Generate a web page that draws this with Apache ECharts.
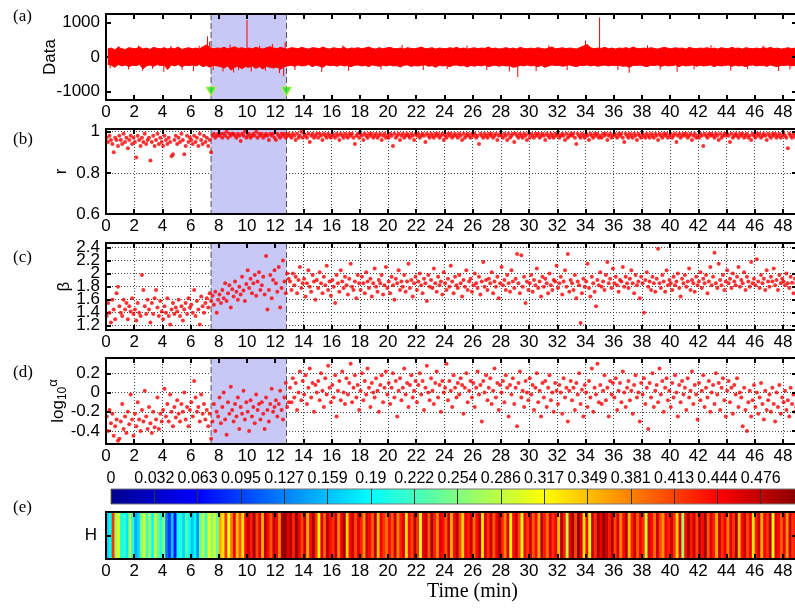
<!DOCTYPE html>
<html>
<head>
<meta charset="utf-8">
<title>Signal, r, beta, alpha and H over time</title>
<script src="https://cdn.jsdelivr.net/npm/echarts@6/dist/echarts.min.js"></script>
<style>
  html, body { margin: 0; padding: 0; background: #fff; }
  #chart { width: 795px; height: 611px; }
</style>
</head>
<body>
<div id="chart"></div>
<script>
// ---------- data ----------
const tMax = 49;
const shadeSpan = [7.45, 12.8];
const markerTimes = [7.45, 12.8];
const markerLevel = -1000;

// (a) raw signal: upper / lower envelope per 0.25 min bin, plus isolated spikes
const bandStep = 0.25;
const bandHigh = [
  230,260,210,280,240,220,270,250, 240,290,230,260,220,280,250,240,
  270,230,260,240,290,220,250,270, 240,260,230,300,350,270,240,260,
  250,280,240,260,300,250,270,240, 260,240,280,250,230,270,300,260,
  240,280,250,230,270,260,240,280, 250,230,270,260,240,290,250,230,
  270,250,240,280,230,260,250,270, 240,260,290,250,230,270,240,260,
  280,250,240,260,230,270,250,240, 260,290,240,250,270,230,260,250,
  240,270,250,280,240,260,230,250, 270,240,260,250,290,240,260,230,
  250,270,240,260,230,280,250,240, 260,240,270,250,230,260,290,240,
  250,270,240,260,250,230,280,320, 360,270,240,260,250,280,240,260,
  230,260,250,270,240,290,250,240, 260,240,270,250,230,260,280,250,
  240,270,250,260,230,280,250,240, 260,250,270,240,260,230,270,250,
  240,280,250,260,230,270,250,240, 260,240,270,250,280,240,260,230,
  250,270,240,260
];
const bandLow = [
  -210,-240,-300,-220,-260,-230,-280,-240, -250,-220,-340,-260,-230,-270,-220,-250,
  -240,-360,-230,-260,-220,-280,-240,-250, -230,-260,-220,-280,-250,-300,-240,-260,
  -280,-320,-260,-380,-300,-270,-340,-280, -300,-260,-330,-280,-350,-270,-300,-320,
  -290,-360,-280,-260,-240,-270,-230,-260, -250,-220,-280,-240,-260,-300,-230,-250,
  -240,-270,-230,-260,-250,-280,-240,-230, -260,-240,-280,-230,-250,-270,-240,-260,
  -230,-260,-250,-290,-240,-230,-270,-250, -260,-240,-230,-270,-250,-300,-240,-260,
  -250,-280,-240,-230,-260,-250,-290,-240, -270,-240,-260,-230,-280,-250,-240,-270,
  -240,-260,-250,-300,-280,-240,-260,-230, -260,-250,-280,-240,-300,-260,-230,-250,
  -240,-270,-250,-230,-260,-280,-240,-250, -230,-260,-240,-270,-250,-230,-260,-240,
  -250,-240,-270,-260,-300,-240,-250,-230, -260,-280,-240,-250,-230,-270,-240,-260,
  -250,-230,-280,-240,-260,-250,-230,-270, -240,-260,-250,-230,-280,-240,-260,-250,
  -230,-270,-240,-260,-250,-280,-240,-230, -260,-240,-250,-270,-230,-260,-280,-240,
  -250,-230,-260,-240
];
const spikes = [
  [0.3,-330],[0.9,310],[1.6,-360],[2.3,330],[2.6,-400],[3.3,-340],[4.1,-430],[4.6,320],
  [5.4,-370],[6.2,-410],[6.6,330],[7.2,600],[7.35,450],[7.6,-380],[8.3,-420],[8.8,360],
  [9.05,-450],[9.4,-380],[10.0,1070],[10.3,-420],[10.9,330],[11.3,-400],[11.8,380],[12.3,-470],
  [12.6,-560],[12.7,430],[13.4,-380],[15.3,-430],[16.8,340],[17.2,-400],[19.5,-360],[21.0,350],
  [22.5,-380],[24.2,-350],[25.6,330],[27.0,-380],[28.6,-420],[29.2,-580],[30.5,-410],[31.4,340],
  [32.7,-380],[34.0,480],[35.0,1150],[36.3,-380],[37.1,-460],[38.4,340],[39.3,-370],[40.5,-430],
  [41.7,-360],[42.9,340],[44.3,-400],[45.5,-350],[46.6,330],[47.7,-410],[48.5,-360]
];

// (b)-(d): one value per 0.1 min window
const winStep = 0.1;
const rValues = [
  0.97,0.95,0.98,0.96,0.94,0.90,0.97,0.96,0.93,0.98,
  0.96,0.94,0.99,0.95,0.97,0.92,0.96,0.98,0.94,0.97,
  0.95,0.875,0.98,0.96,0.93,0.97,0.95,0.99,0.94,0.96,
  0.97,0.86,0.95,0.98,0.93,0.96,0.99,0.94,0.97,0.95,
  0.93,0.98,0.96,0.94,0.97,0.95,0.88,0.89,0.96,0.98,
  0.94,0.97,0.95,0.99,0.96,0.89,0.93,0.98,0.95,0.97,
  0.96,0.94,0.98,0.95,0.97,0.93,0.99,0.96,0.94,0.98,
  0.95,0.97,0.93,0.96,0.90,0.98,0.99,0.97,0.98,0.99,
  0.98,0.99,0.97,0.99,0.98,1.00,0.97,0.99,0.98,0.99,
  0.99,0.98,0.97,0.99,0.98,0.955,0.99,0.98,1.00,0.97,
  0.98,0.99,0.97,0.98,0.99,0.98,1.00,0.97,0.99,0.98,
  0.99,0.97,0.98,0.99,0.98,0.96,0.99,0.98,0.99,0.97,
  0.96,0.99,0.98,0.97,0.99,0.98,0.99,0.97,0.98,0.99,
  0.98,0.97,0.99,0.98,0.96,0.99,0.97,0.98,1.00,0.97,
  0.99,0.98,0.97,0.99,0.95,0.98,0.99,0.97,0.98,0.99,
  0.97,0.99,0.98,0.96,0.99,0.98,0.97,0.99,0.98,0.97,
  0.99,0.98,0.97,0.99,0.98,0.96,0.99,0.98,0.97,0.99,
  0.98,0.97,0.99,0.98,0.99,0.97,0.94,0.98,0.99,0.97,
  0.99,0.98,0.96,0.99,0.98,0.97,0.99,0.98,0.99,0.97,
  0.98,0.99,0.97,0.98,0.99,0.96,0.98,0.99,0.97,0.98,
  0.97,0.99,0.98,0.93,0.99,0.97,0.98,0.99,0.96,0.98,
  0.99,0.97,0.98,0.99,0.98,0.97,0.99,0.98,0.96,0.99,
  0.98,0.99,0.97,0.98,0.99,0.98,0.95,0.99,0.98,0.97,
  0.99,0.98,0.97,0.99,0.98,0.99,0.97,0.98,0.99,0.96,
  0.98,0.97,0.99,0.98,0.99,0.97,0.98,0.99,0.98,0.97,
  0.99,0.98,0.96,0.99,0.97,0.98,0.99,0.98,0.97,0.99,
  0.98,0.99,0.97,0.98,0.94,0.99,0.98,0.97,0.99,0.98,
  0.97,0.99,0.98,0.99,0.97,0.98,0.99,0.96,0.98,0.99,
  0.98,0.97,0.99,0.98,0.96,0.99,0.97,0.98,0.99,0.95,
  0.99,0.98,0.97,0.99,0.98,0.97,0.99,0.98,0.96,0.99,
  0.97,0.99,0.98,0.97,0.99,0.98,0.99,0.97,0.98,0.99,
  0.98,0.96,0.99,0.98,0.97,0.99,0.98,0.97,0.99,0.98,
  0.99,0.97,0.98,0.99,0.98,0.96,0.99,0.97,0.98,0.99,
  0.98,0.99,0.97,0.94,0.99,0.98,0.97,0.99,0.98,0.97,
  0.99,0.98,0.96,0.99,0.98,0.97,0.99,0.98,0.99,0.97,
  0.98,0.97,0.99,0.98,0.99,0.96,0.98,0.99,0.97,0.98,
  0.99,0.98,0.97,0.99,0.98,0.99,0.97,0.95,0.99,0.98,
  0.97,0.99,0.98,0.97,0.99,0.98,0.96,0.99,0.98,0.97,
  0.99,0.98,0.97,0.99,0.98,0.97,0.99,0.98,0.97,0.99,
  0.98,0.96,0.99,0.98,0.97,0.99,0.98,0.99,0.97,0.98,
  0.99,0.97,0.98,0.99,0.95,0.98,0.99,0.97,0.98,0.99,
  0.98,0.99,0.97,0.98,0.99,0.96,0.98,0.99,0.97,0.98,
  0.97,0.99,0.98,0.93,0.99,0.98,0.97,0.99,0.98,0.99,
  0.98,0.97,0.99,0.98,0.96,0.99,0.97,0.98,0.99,0.98,
  0.99,0.98,0.95,0.99,0.97,0.98,0.99,0.98,0.97,0.99,
  0.98,0.99,0.97,0.98,0.99,0.97,0.98,0.96,0.99,0.98,
  0.97,0.99,0.98,0.99,0.97,0.98,0.99,0.98,0.96,0.99,
  0.98,0.97,0.99,0.98,0.99,0.97,0.98,0.99,0.97,0.98,
  0.99,0.98,0.97,0.92,0.99,0.98,0.97,0.99,0.98,0.97
];
const betaValues = [
  1.35,1.55,1.40,1.25,1.60,1.45,1.30,1.70,1.80,1.50,
  1.40,1.35,1.60,1.45,1.55,1.30,1.50,1.42,1.62,1.38,
  1.45,1.28,1.55,1.40,1.35,1.98,1.75,1.50,1.38,1.60,
  1.45,1.25,1.55,1.38,1.62,1.75,1.48,1.35,1.58,1.42,
  1.30,1.50,1.40,1.62,1.35,1.22,1.45,1.55,1.38,1.48,
  1.42,1.60,1.35,1.50,1.28,1.45,1.55,1.38,1.62,1.48,
  1.52,1.40,1.75,1.35,1.58,1.45,1.22,1.65,1.50,1.40,
  1.55,1.62,1.48,1.70,1.58,1.66,1.52,1.72,1.40,1.60,
  1.68,1.55,1.75,1.62,1.85,1.58,1.70,1.82,1.48,1.76,
  1.65,1.88,1.72,1.60,1.80,1.68,1.95,1.74,1.58,1.84,
  2.05,1.78,1.92,1.70,1.85,1.98,1.66,1.88,2.02,1.75,
  1.82,1.95,1.68,2.27,1.45,1.75,1.98,1.62,1.90,2.05,
  1.85,1.72,2.10,1.48,1.78,2.20,1.88,1.70,2.00,1.92,
  1.88,1.75,2.00,1.82,1.95,1.70,1.90,2.10,1.78,1.85,
  1.92,1.65,1.85,2.05,1.80,1.72,1.98,1.88,1.60,1.90,
  1.78,2.02,1.85,1.70,1.95,1.82,2.12,1.75,1.88,1.66,
  1.90,1.80,1.55,1.98,1.85,1.72,2.05,1.88,1.78,1.95,
  1.82,1.68,1.92,2.15,1.80,1.75,1.88,1.62,1.98,1.85,
  1.75,1.95,1.85,1.70,2.02,1.88,1.78,1.92,1.65,1.85,
  2.08,1.80,1.72,1.90,1.85,1.98,1.68,1.82,2.10,1.78,
  1.88,1.70,1.95,1.82,1.60,1.92,1.85,2.05,1.75,1.88,
  1.80,1.98,1.72,1.88,2.15,1.78,1.90,1.65,1.85,1.95,
  1.75,1.88,2.00,1.82,1.70,1.92,1.85,1.58,1.98,1.80,
  1.90,1.78,2.08,1.85,1.72,1.95,1.82,1.88,1.68,2.02,
  1.85,1.75,1.92,1.80,2.12,1.88,1.70,1.95,1.82,1.78,
  1.98,1.85,1.65,1.90,1.80,2.05,1.75,1.88,1.92,1.72,
  1.82,2.00,1.85,1.78,1.95,1.68,1.88,2.18,1.80,1.90,
  1.75,1.92,1.85,2.02,1.70,1.88,1.80,1.95,1.62,1.85,
  2.10,1.82,1.90,1.75,1.98,1.85,1.72,2.05,1.88,1.78,
  1.92,2.30,1.85,1.70,2.28,1.80,1.95,1.55,1.88,1.75,
  1.85,1.98,1.72,1.90,1.82,2.08,1.78,1.88,1.65,1.95,
  1.80,1.92,1.85,1.70,2.00,1.82,1.75,1.90,1.88,2.12,
  1.78,1.85,1.95,1.68,1.88,2.05,1.80,2.30,1.72,1.90,
  1.85,1.75,1.98,1.62,1.88,1.82,1.24,1.70,1.92,1.80,
  1.88,2.15,1.78,1.65,1.95,1.85,1.72,1.50,1.90,1.82,
  2.02,1.80,1.88,1.75,1.98,2.18,1.85,1.92,1.78,2.08,
  1.85,1.95,1.82,1.72,1.90,1.88,2.10,1.80,1.95,1.85,
  1.78,1.92,2.05,1.85,1.70,1.98,1.82,1.88,1.62,1.95,
  1.85,1.40,1.90,2.02,1.80,1.88,1.75,1.95,1.85,1.72,
  1.92,2.38,1.85,1.78,1.98,1.88,1.72,2.05,1.82,1.90,
  1.85,1.75,1.95,1.82,1.88,2.00,1.78,1.65,1.92,1.85,
  1.98,1.80,1.88,2.08,1.75,1.90,1.85,1.72,1.95,1.82,
  1.88,2.02,1.78,1.92,1.85,1.98,1.70,1.88,2.10,1.82,
  1.95,2.32,1.85,1.78,2.15,1.90,1.82,1.98,1.75,1.88,
  2.05,1.85,1.92,1.78,2.00,1.88,1.82,1.95,2.10,1.80,
  1.90,1.85,2.02,1.75,1.95,1.88,1.80,2.18,1.85,1.92,
  1.82,2.22,1.88,1.78,1.98,1.85,1.92,1.75,2.05,1.88,
  1.80,1.95,1.88,2.08,1.82,1.90,1.75,1.98,1.85,1.92,
  1.88,1.82,2.00,1.85,1.78,1.95,1.86,1.70,1.92,1.85
];
const logAlphaValues = [
  -0.25,-0.40,-0.18,-0.32,-0.22,-0.45,-0.35,-0.28,-0.50,-0.48,
  -0.30,-0.12,-0.38,-0.25,-0.42,-0.20,-0.33,-0.02,-0.28,-0.45,
  -0.22,-0.35,-0.10,-0.28,-0.40,-0.18,-0.30,0.02,-0.25,-0.38,
  -0.15,-0.32,-0.42,-0.20,-0.36,-0.28,-0.05,-0.38,-0.22,-0.30,
  -0.18,0.04,-0.25,-0.12,-0.30,-0.02,-0.20,-0.35,-0.15,-0.26,
  -0.08,-0.22,-0.30,-0.12,-0.20,0.00,-0.28,-0.15,-0.35,-0.18,
  -0.10,-0.25,0.12,-0.05,-0.20,-0.15,-0.30,-0.02,-0.22,-0.12,
  -0.28,-0.18,-0.35,-0.22,-0.48,-0.30,-0.12,-0.40,-0.20,-0.25,
  -0.05,-0.32,-0.15,0.00,-0.28,-0.44,-0.10,-0.22,0.06,-0.18,
  -0.30,-0.12,-0.25,-0.05,-0.38,-0.15,-0.22,0.02,-0.28,-0.10,
  -0.20,-0.40,-0.08,-0.25,-0.15,-0.32,-0.02,-0.18,-0.12,-0.28,
  -0.10,-0.22,-0.38,-0.05,-0.18,-0.30,-0.12,0.04,-0.20,-0.15,
  -0.08,-0.25,-0.12,0.02,-0.18,-0.28,-0.05,0.10,-0.15,-0.10,
  0.05,-0.10,0.15,-0.05,0.10,-0.18,0.00,0.22,-0.08,0.12,
  -0.02,0.18,-0.12,0.05,0.25,-0.05,0.10,-0.20,0.08,0.00,
  0.12,-0.08,0.20,0.02,-0.15,0.15,-0.02,0.28,0.05,-0.10,
  0.08,-0.05,0.18,-0.25,0.02,0.12,-0.08,0.22,0.00,-0.12,
  0.15,-0.02,0.10,0.30,-0.10,0.05,0.18,-0.05,0.08,-0.18,
  0.02,0.20,-0.08,0.12,-0.02,0.25,0.05,-0.15,0.10,0.00,
  -0.05,0.15,0.02,-0.20,0.08,0.18,-0.10,0.05,0.22,-0.02,
  0.10,-0.12,0.05,0.20,-0.05,0.12,-0.25,0.02,0.15,-0.08,
  0.05,0.25,-0.02,0.10,-0.15,0.08,0.18,-0.05,0.02,0.12,
  -0.10,0.08,0.20,-0.02,0.12,-0.18,0.05,0.28,0.00,-0.08,
  0.15,0.02,-0.12,0.10,0.22,-0.05,0.08,-0.20,0.12,0.00,
  0.05,0.30,-0.08,0.12,0.02,-0.15,0.18,0.05,-0.05,0.10,
  -0.02,0.15,0.08,-0.22,0.05,0.20,-0.10,0.02,0.12,-0.05,
  0.10,-0.15,0.05,0.22,-0.02,0.08,-0.30,0.12,0.00,0.18,
  -0.08,0.05,0.15,-0.12,0.02,0.25,-0.05,0.10,-0.18,0.08,
  0.00,0.12,-0.10,0.18,0.05,-0.25,0.08,-0.02,0.15,-0.12,
  0.05,-0.35,0.10,0.22,-0.05,0.02,-0.15,0.12,0.00,-0.08,
  0.15,-0.02,0.08,-0.18,0.05,0.20,-0.10,0.02,-0.25,0.10,
  -0.05,0.12,-0.15,0.05,0.18,-0.08,0.00,-0.20,0.10,0.02,
  -0.12,0.08,0.00,-0.22,0.15,-0.05,0.05,-0.30,0.02,0.12,
  -0.08,0.05,-0.18,0.10,-0.02,0.20,-0.12,0.03,-0.25,0.08,
  0.00,-0.15,0.12,-0.05,0.25,-0.20,0.05,-0.02,0.30,-0.10,
  0.08,-0.12,0.02,0.18,-0.08,0.05,-0.25,0.12,-0.02,0.10,
  -0.05,0.15,-0.18,0.02,0.10,-0.10,0.22,0.00,-0.15,0.05,
  0.12,-0.08,0.02,-0.22,0.08,0.18,-0.05,0.00,-0.30,0.10,
  -0.02,0.15,-0.12,0.05,-0.38,0.10,-0.05,0.20,-0.15,0.02,
  0.08,-0.10,0.25,-0.02,0.12,-0.20,0.05,0.15,-0.08,0.02,
  -0.15,0.10,-0.05,0.18,0.00,-0.25,0.08,-0.10,0.12,-0.02,
  0.05,-0.18,0.15,-0.05,0.02,0.22,-0.12,0.08,-0.02,-0.28,
  0.10,-0.08,0.02,0.18,-0.15,0.05,-0.05,0.12,-0.20,0.00,
  0.08,-0.12,0.20,-0.02,0.10,-0.18,0.05,0.15,-0.08,-0.25,
  0.02,0.12,-0.10,0.05,-0.22,0.08,-0.02,0.15,-0.15,0.00,
  -0.05,-0.35,0.05,-0.18,-0.40,-0.10,0.02,-0.25,-0.08,0.08,
  -0.15,0.00,-0.22,-0.05,0.10,-0.12,-0.28,0.02,-0.18,-0.08,
  -0.02,-0.20,0.05,-0.12,-0.30,0.00,-0.15,0.08,-0.22,-0.05,
  -0.10,0.02,-0.18,-0.08,-0.25,0.05,-0.12,-0.02,-0.20,-0.15
];

// (e) H per 0.2 min cell
const hStep = 0.2;
const hValues = [
  0.17,0.19,0.42,0.27,0.30,0.20,0.22,0.18,0.28,0.21,
  0.15,0.17,0.25,0.30,0.22,0.27,0.19,0.29,0.24,0.21,
  0.26,0.12,0.09,0.16,0.07,0.19,0.21,0.17,0.23,0.20,
  0.16,0.19,0.14,0.25,0.28,0.22,0.31,0.26,0.29,0.24,
  0.36,0.33,0.42,0.31,0.38,0.45,0.35,0.40,0.33,0.44,
  0.47,0.43,0.49,0.41,0.46,0.36,0.48,0.44,0.40,0.47,
  0.45,0.38,0.49,0.50,0.46,0.48,0.43,0.50,0.45,0.41,
  0.47,0.36,0.44,0.49,0.42,0.32,0.46,0.40,0.48,0.44,
  0.42,0.47,0.38,0.45,0.49,0.34,0.44,0.47,0.41,0.46,
  0.43,0.37,0.47,0.44,0.40,0.48,0.35,0.45,0.42,0.39,
  0.44,0.40,0.47,0.38,0.43,0.46,0.33,0.44,0.41,0.48,
  0.42,0.30,0.45,0.47,0.40,0.49,0.43,0.38,0.46,0.44,
  0.40,0.47,0.36,0.44,0.48,0.41,0.34,0.45,0.43,0.47,
  0.39,0.44,0.48,0.33,0.46,0.42,0.47,0.40,0.45,0.49,
  0.43,0.38,0.46,0.32,0.44,0.47,0.41,0.30,0.45,0.42,
  0.47,0.40,0.44,0.36,0.48,0.43,0.39,0.46,0.42,0.45,
  0.35,0.48,0.43,0.28,0.45,0.49,0.41,0.50,0.46,0.33,
  0.44,0.31,0.47,0.42,0.49,0.45,0.50,0.47,0.43,0.48,
  0.41,0.46,0.38,0.44,0.48,0.35,0.43,0.47,0.40,0.45,
  0.42,0.29,0.46,0.44,0.39,0.47,0.41,0.37,0.45,0.43,
  0.47,0.42,0.34,0.46,0.27,0.44,0.49,0.43,0.47,0.41,
  0.48,0.44,0.49,0.40,0.46,0.43,0.36,0.47,0.42,0.45,
  0.38,0.46,0.42,0.49,0.35,0.44,0.47,0.41,0.45,0.33,
  0.43,0.47,0.36,0.45,0.42,0.48,0.31,0.46,0.44,0.40,
  0.45,0.37,0.47,0.42,0.44
];

// colour bar
const cbLabels = ['0','0.032','0.063','0.095','0.127','0.159','0.19','0.222',
  '0.254','0.286','0.317','0.349','0.381','0.413','0.444','0.476'];
const cbStep = 0.476 / 15;
const cbMax = cbStep * 16;
const jetColors = ['#00008f','#0000ff','#0080ff','#00ffff','#80ff80','#ffff00','#ff8000','#ff0000','#800000'];

// ---------- chart ----------
const SANS = 'Liberation Sans';
const SERIF = 'Liberation Serif';
const RED = '#ff0000';
const FS = 17;
const tick = {inside: true, length: 5, lineStyle: {color: '#000', width: 2}};
const dots = {show: true, lineStyle: {color: '#444', width: 1, type: [1, 2]}};
const noLine = {show: false, onZero: false};

const panels = [
  {top: 14, height: 86, min: -1250, max: 1250, step: 1000, name: 'Data', gap: 47, grid: false},
  {top: 129, height: 85, min: 0.6, max: 1.013, step: 0.2, name: 'r', gap: 36, grid: true},
  {top: 243, height: 87, min: 1.134, max: 2.47, step: 0.2, name: 'β', gap: 33, grid: true},
  {top: 358, height: 86, min: -0.535, max: 0.36, step: 0.2, name: '{l|log}{s|10}{a|α}', gap: 37, grid: true}
];

const grids = [], xAxes = [], yAxes = [];

function timeAxes(gridIndex, withGrid, bottomZ) {
  xAxes.push({
    type: 'value', gridIndex, position: 'bottom', min: 0, max: tMax, interval: 2, z: bottomZ,
    axisLine: noLine, axisTick: tick,
    axisLabel: {color: '#000', fontSize: FS, margin: 4, showMaxLabel: false, hideOverlap: false},
    splitLine: withGrid ? dots : {show: false}
  });
  xAxes.push({
    type: 'value', gridIndex, position: 'top', min: 0, max: tMax, interval: 2, z: 3,
    axisLine: noLine, axisTick: tick, axisLabel: {show: false}, splitLine: {show: false}
  });
}

function sideAxes(gridIndex, p, labelFmt, leftZ) {
  const common = {
    type: 'value', gridIndex, min: p.min, max: p.max,
    minInterval: p.step, maxInterval: p.step,
    axisLine: noLine, axisTick: tick
  };
  yAxes.push(Object.assign({}, common, {
    position: 'left', z: leftZ,
    name: p.name, nameLocation: 'middle', nameGap: p.gap, nameRotate: 90, nameMoveOverlap: false,
    nameTextStyle: {color: '#000', fontSize: FS, fontFamily: SANS, rich: {
      l: {fontSize: FS, color: '#000', lineHeight: 22, verticalAlign: 'middle'},
      s: {fontSize: 12, color: '#000', lineHeight: 22, verticalAlign: 'bottom'},
      a: {fontSize: 13, color: '#000', lineHeight: 22, verticalAlign: 'top'}
    }},
    axisLabel: {color: '#000', fontSize: FS, margin: 6, showMinLabel: p.min === 0.6 || p.min === 0,
      showMaxLabel: false, hideOverlap: false, formatter: labelFmt},
    splitLine: p.grid ? dots : {show: false}
  }));
  yAxes.push(Object.assign({}, common, {
    position: 'right', z: 3, axisLabel: {show: false}, splitLine: {show: false}
  }));
}

panels.forEach((p, g) => {
  grids.push({left: 106, width: 691, top: p.top, height: p.height, show: true, z: 3,
    backgroundColor: 'transparent', borderColor: '#000', borderWidth: 2, outerBoundsMode: 'none'});
  timeAxes(g, p.grid, 0);
  sideAxes(g, p, v => String(+v.toFixed(2)), 0);
});

// colour bar grid (index 4)
grids.push({left: 111, width: 693, top: 489, height: 15, show: true, z: 0, outerBoundsMode: 'none',
  borderColor: '#777', borderWidth: 1,
  backgroundColor: {type: 'linear', x: 0, y: 0, x2: 1, y2: 0,
    colorStops: jetColors.map((c, i) => ({offset: i / (jetColors.length - 1), color: c}))}});
xAxes.push({type: 'value', gridIndex: 4, position: 'top', min: 0, max: cbMax, interval: cbStep,
  axisLine: noLine, axisTick: {show: false},
  axisLabel: {color: '#000', fontSize: 16, margin: 2, hideOverlap: false, showMaxLabel: true,
    formatter: v => cbLabels[Math.round(v / cbStep)] || ''},
  splitLine: {show: true, lineStyle: {color: '#333', width: 1}}});
yAxes.push({type: 'value', gridIndex: 4, min: 0, max: 1, show: false});

// H strip grid (index 5)
grids.push({left: 106, width: 691, top: 512, height: 47, show: true, z: 3,
  backgroundColor: 'transparent', borderColor: '#000', borderWidth: 2, outerBoundsMode: 'none'});
timeAxes(5, false, 3);
sideAxes(5, {min: 0, max: 1, step: 0.5, name: '', gap: 10, grid: false}, v => (v === 0.5 ? 'H' : ''), 3);
yAxes[yAxes.length - 2].axisLabel.margin = 9;

function shadeSeries(g) {
  return {
    type: 'custom', xAxisIndex: 2 * g, yAxisIndex: 2 * g, z: 1, silent: true,
    data: [shadeSpan],
    renderItem(params, api) {
      const cs = params.coordSys;
      const x0 = api.coord([api.value(0), 0])[0];
      const x1 = api.coord([api.value(1), 0])[0];
      const edge = x => ({type: 'line', shape: {x1: x, y1: cs.y, x2: x, y2: cs.y + cs.height},
        style: {stroke: '#555', lineWidth: 1, lineDash: [6, 3]}});
      return {type: 'group', children: [
        {type: 'rect', shape: {x: x0, y: cs.y, width: x1 - x0, height: cs.height}, style: {fill: '#c8c8f6'}},
        edge(x0), edge(x1)
      ]};
    }
  };
}

function dotSeries(g, values) {
  return {
    type: 'scatter', xAxisIndex: 2 * g, yAxisIndex: 2 * g, z: 2, silent: true,
    symbol: 'circle', symbolSize: 4, itemStyle: {color: RED},
    data: values.map((v, i) => [(i + 0.5) * winStep, v])
  };
}

const bandLine = values => ({
  type: 'line', xAxisIndex: 0, yAxisIndex: 0, z: 2, silent: true, showSymbol: false,
  lineStyle: {color: RED, width: 1}, areaStyle: {color: RED, opacity: 1},
  data: values.map((v, i) => [(i + 0.5) * bandStep, v])
});

const series = [
  shadeSeries(0),
  bandLine(bandHigh),
  bandLine(bandLow),
  {
    type: 'custom', xAxisIndex: 0, yAxisIndex: 0, z: 2, silent: true, data: spikes,
    renderItem(params, api) {
      const p0 = api.coord([api.value(0), 0]);
      const p1 = api.coord([api.value(0), api.value(1)]);
      return {type: 'line', shape: {x1: p0[0], y1: p0[1], x2: p1[0], y2: p1[1]},
        style: {stroke: RED, lineWidth: 1}};
    }
  },
  {
    type: 'scatter', xAxisIndex: 0, yAxisIndex: 0, z: 4, silent: true,
    symbol: 'triangle', symbolRotate: 180, symbolSize: [10, 9],
    itemStyle: {color: '#22e622', borderColor: '#d8f040', borderWidth: 1},
    data: markerTimes.map(t => [t, markerLevel])
  },
  shadeSeries(1), dotSeries(1, rValues),
  shadeSeries(2), dotSeries(2, betaValues),
  shadeSeries(3), dotSeries(3, logAlphaValues),
  {
    type: 'custom', xAxisIndex: 9, yAxisIndex: 9, z: 2, silent: true,
    encode: {x: [0, 1], y: -1},
    data: hValues.map((h, i) => [i * hStep, (i + 1) * hStep, h]),
    renderItem(params, api) {
      const p0 = api.coord([api.value(0), 1]);
      const p1 = api.coord([api.value(1), 0]);
      return {type: 'rect', shape: {x: p0[0], y: p0[1], width: p1[0] - p0[0] + 0.6, height: p1[1] - p0[1]},
        style: {fill: api.visual('color')}};
    }
  }
];

const letters = [['(a)', 8], ['(b)', 131], ['(c)', 249], ['(d)', 364], ['(e)', 499]];

const chart = echarts.init(document.getElementById('chart'));
chart.setOption({
  animation: false,
  backgroundColor: '#fff',
  textStyle: {fontFamily: SANS},
  grid: grids,
  xAxis: xAxes,
  yAxis: yAxes,
  visualMap: {type: 'continuous', show: false, seriesIndex: 11, dimension: 2,
    min: 0, max: cbMax, inRange: {color: jetColors}},
  graphic: letters.map(([txt, y]) => ({
    type: 'text', left: 13, top: y,
    style: {text: txt, fontSize: 17, fontFamily: SERIF, fill: '#000'}
  })).concat([{
    type: 'text', left: 427, top: 582,
    style: {text: 'Time (min)', fontSize: 20, fontFamily: SERIF, fill: '#000'}
  }]),
  series
});
</script>
</body>
</html>
